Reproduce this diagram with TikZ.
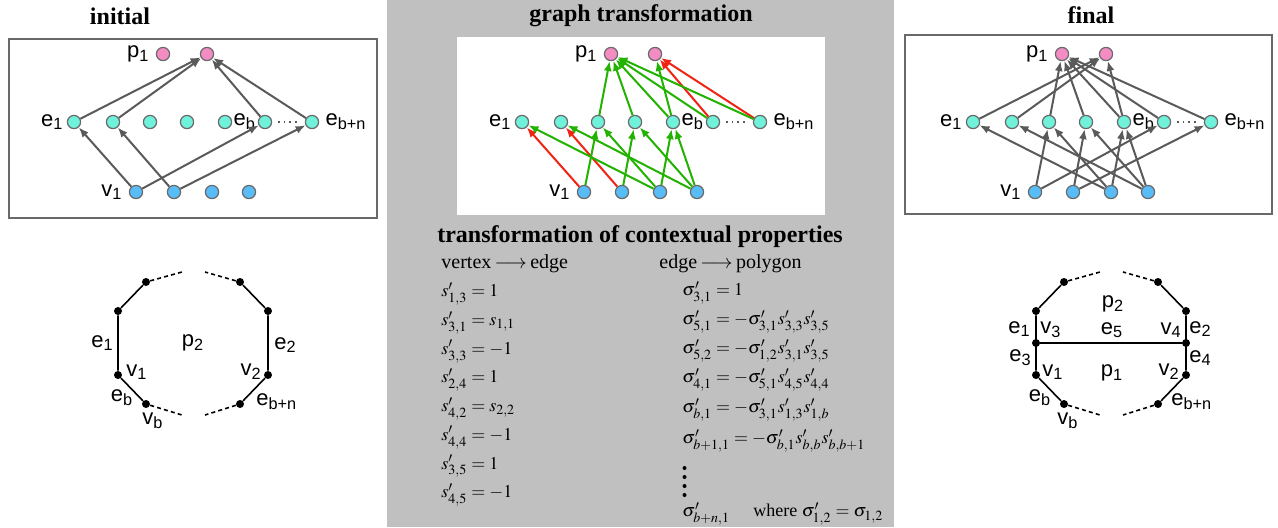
\documentclass[tikz,border=0pt]{standalone}
\usepackage{mathptmx}
\usepackage{fontspec}
\setmainfont{Liberation Serif}
\newfontfamily\lblfont{Liberation Sans}
\usetikzlibrary{arrows.meta,positioning}

\definecolor{pnode}{RGB}{244,140,196}
\definecolor{enode}{RGB}{112,242,218}
\definecolor{vnode}{RGB}{88,188,246}
\definecolor{rim}{RGB}{105,105,105}
\definecolor{arr}{RGB}{90,90,90}
\definecolor{addgreen}{RGB}{34,178,0}
\definecolor{delred}{RGB}{240,36,20}
\definecolor{panel}{RGB}{192,192,192}

\tikzset{
  vx/.style={circle, draw=rim, line width=0.6pt, minimum size=6.6pt, inner sep=0pt},
  pn/.style={vx, fill=pnode},
  en/.style={vx, fill=enode},
  vn/.style={vx, fill=vnode},
  lbl/.style={font=\lblfont\fontsize{11}{13}\selectfont, inner sep=0pt},
  keep/.style={->, arr, line width=1pt},
  added/.style={->, addgreen, line width=1pt},
  removed/.style={->, delred, line width=1pt},
  blob/.style={circle, fill=black, minimum size=4pt, inner sep=0pt},
  edg/.style={line width=0.8pt},
  gap/.style={line width=0.8pt, dash pattern=on 2pt off 1.6pt},
  ttl/.style={font=\bfseries\fontsize{12}{14}\selectfont},
  eqn/.style={anchor=west, inner sep=0pt, font=\fontsize{9}{11}\selectfont},
}

\begin{document}
\begin{tikzpicture}[x=0.5pt, y=-0.5pt, >={Latex[length=5pt,width=4pt]}]
  \useasboundingbox (0,0) rectangle (1278,527);
  % panels
  \fill[panel] (387,0) rectangle (894,527);
  \fill[white] (457,37) rectangle (825,215);
  \draw[rim, line width=0.75pt] (9,39) rectangle (377,218);
  \draw[rim, line width=0.75pt] (905,35) rectangle (1272,214);

  \node[ttl] (tinit) at (120,16) {initial};
  \node[ttl] (tgraph) at (641,16) {graph transformation};
  \node[ttl] (tfinal) at (1091,15) {final};

  % the three graphs: i = initial, m = transformation, f = final
  \foreach \g/\dx in {i/0, m/448, f/899}{
    \node[pn] (\g p1) at (163+\dx,54) {};
    \node[pn] (\g p2) at (207+\dx,54) {};
    \foreach \i/\x in {1/74,2/113,3/150,4/187,5/225,6/265,7/312}
      \node[en] (\g e\i) at (\x+\dx,122) {};
    \foreach \i/\x in {1/136,2/174,3/212,4/249}
      \node[vn] (\g v\i) at (\x+\dx,192) {};
    \draw[arr, line width=0.8pt, dash pattern=on 0.8pt off 2pt, shorten >=3pt, shorten <=3pt] (\g e6) -- (\g e7);
    \node[lbl, left=3pt of \g p1] (\g lp) {p\textsubscript{1}};
    \node[lbl, left=1.5pt of \g e1] (\g le1) {e\textsubscript{1}};
    \node[lbl, left=0.8pt of \g e6] (\g leb) {e\textsubscript{b}};
    \node[lbl, right=3pt of \g e7] (\g lebn) {e\textsubscript{b+n}};
    \node[lbl, left=3pt of \g v1] (\g lv) {v\textsubscript{1}};
  }

  % initial
  \draw[keep] (iv1) -- (ie1);
  \draw[keep] (iv1) -- (ie6);
  \draw[keep] (iv2) -- (ie2);
  \draw[keep] (iv2) -- (ie7);
  \foreach \i in {1,2,6,7}
    \draw[keep] (ie\i) -- (ip2);

  % transformation
  \draw[removed] (mv1) -- (me1);
  \draw[removed] (mv2) -- (me2);
  \draw[removed] (me6) -- (mp2);
  \draw[removed] (me7) -- (mp2);
  \foreach \a/\b in {v1/e3, v2/e4, v3/e1, v3/e3, v3/e5, v4/e2, v4/e4, v4/e5,
                     e3/p1, e4/p1, e5/p1, e6/p1, e7/p1, e5/p2}
    \draw[added] (m\a) -- (m\b);

  % final
  \foreach \a/\b in {v1/e3, v1/e6, v2/e4, v2/e7, v3/e1, v3/e3, v3/e5, v4/e2, v4/e4, v4/e5,
                     e3/p1, e4/p1, e5/p1, e6/p1, e7/p1, e1/p2, e2/p2, e5/p2}
    \draw[keep] (f\a) -- (f\b);

  % polygons
  \foreach \g/\dx in {l/0, r/918}{
    \node[blob] (\g a) at (118+\dx,311) {};
    \node[blob] (\g b) at (146+\dx,282) {};
    \node[blob] (\g c) at (118+\dx,375) {};
    \node[blob] (\g d) at (146+\dx,404) {};
    \node[blob] (\g e) at (240+\dx,282) {};
    \node[blob] (\g f) at (268+\dx,311) {};
    \node[blob] (\g g) at (268+\dx,375) {};
    \node[blob] (\g h) at (240+\dx,404) {};
    \coordinate (\g tl) at (182+\dx,272);
    \coordinate (\g tr) at (205+\dx,272);
    \coordinate (\g bl) at (182+\dx,415);
    \coordinate (\g br) at (205+\dx,415);
    \draw[edg] (\g b) -- (\g a) -- (\g c) -- (\g d);
    \draw[edg] (\g e) -- (\g f) -- (\g g) -- (\g h);
    \draw[gap] (\g b) -- (\g tl);
    \draw[gap] (\g e) -- (\g tr);
    \draw[gap] (\g d) -- (\g bl);
    \draw[gap] (\g h) -- (\g br);
  }
  \node[blob] (rv3) at (1036,343) {};
  \node[blob] (rv4) at (1186,343) {};
  \draw[edg] (rv3) -- (rv4);

  \node[lbl, anchor=east] (l1) at (114,343) {e\textsubscript{1}};
  \node[lbl] (l2) at (193,343) {p\textsubscript{2}};
  \node[lbl, anchor=west] (l3) at (274,345) {e\textsubscript{2}};
  \node[lbl, anchor=west] (l4) at (126,372) {v\textsubscript{1}};
  \node[lbl, anchor=east] (l5) at (262,372) {v\textsubscript{2}};
  \node[lbl] (l6) at (122,398) {e\textsubscript{b}};
  \node[lbl] (l7) at (153,421) {v\textsubscript{b}};
  \node[lbl, anchor=west] (l8) at (256,402) {e\textsubscript{b+n}};

  \node[lbl] (r1) at (1113,304) {p\textsubscript{2}};
  \node[lbl, anchor=east] (r2) at (1031,329) {e\textsubscript{1}};
  \node[lbl, anchor=west] (r3) at (1040,330) {v\textsubscript{3}};
  \node[lbl] (r4) at (1112,330) {e\textsubscript{5}};
  \node[lbl, anchor=east] (r5) at (1182,330) {v\textsubscript{4}};
  \node[lbl, anchor=west] (r6) at (1189,329) {e\textsubscript{2}};
  \node[lbl, anchor=east] (r7) at (1032,358) {e\textsubscript{3}};
  \node[lbl, anchor=west] (r8) at (1042,372) {v\textsubscript{1}};
  \node[lbl] (r9) at (1112,373) {p\textsubscript{1}};
  \node[lbl, anchor=east] (r10) at (1180,372) {v\textsubscript{2}};
  \node[lbl, anchor=west] (r11) at (1189,358) {e\textsubscript{4}};
  \node[lbl] (r12) at (1040,398) {e\textsubscript{b}};
  \node[lbl] (r13) at (1068,421) {v\textsubscript{b}};
  \node[lbl, anchor=west] (r14) at (1171,402) {e\textsubscript{b+n}};

  % contextual properties
  \node[ttl] (tctx) at (640,237) {transformation of contextual properties};
  \node[anchor=west, inner sep=0pt, font=\fontsize{10}{12}\selectfont] (hv) at (441,264) {vertex\,$\longrightarrow$\,edge};
  \node[anchor=west, inner sep=0pt, font=\fontsize{10}{12}\selectfont] (he) at (659,264) {edge\,$\longrightarrow$\,polygon};
  \foreach \t [count=\i] in {{$s'_{1,3}=1$}, {$s'_{3,1}=s_{1,1}$}, {$s'_{3,3}=-1$}, {$s'_{2,4}=1$},
                             {$s'_{4,2}=s_{2,2}$}, {$s'_{4,4}=-1$}, {$s'_{3,5}=1$}, {$s'_{4,5}=-1$}}
    \node[eqn] (s\i) at (441,294+28.7*\i-28.7) {\t};
  \foreach \t/\y [count=\i] in {{$\sigma'_{3,1}=1$}/293,
                                {$\sigma'_{5,1}=-\sigma'_{3,1}s'_{3,3}s'_{3,5}$}/322,
                                {$\sigma'_{5,2}=-\sigma'_{1,2}s'_{3,1}s'_{3,5}$}/351,
                                {$\sigma'_{4,1}=-\sigma'_{5,1}s'_{4,5}s'_{4,4}$}/380,
                                {$\sigma'_{b,1}=-\sigma'_{3,1}s'_{1,3}s'_{1,b}$}/410,
                                {$\sigma'_{b+1,1}=-\sigma'_{b,1}s'_{b,b}s'_{b,b+1}$}/441,
                                {$\sigma'_{b+n,1}$}/514}
    \node[eqn] (g\i) at (682,\y) {\t};
  % vertical dots
  \foreach \y in {468,477,486,495}
    \fill (684.5,\y) circle (1pt);
  \node[eqn] (gwhere) at (753,514) {where $\sigma'_{1,2}=\sigma_{1,2}$};
\end{tikzpicture}
\end{document}
